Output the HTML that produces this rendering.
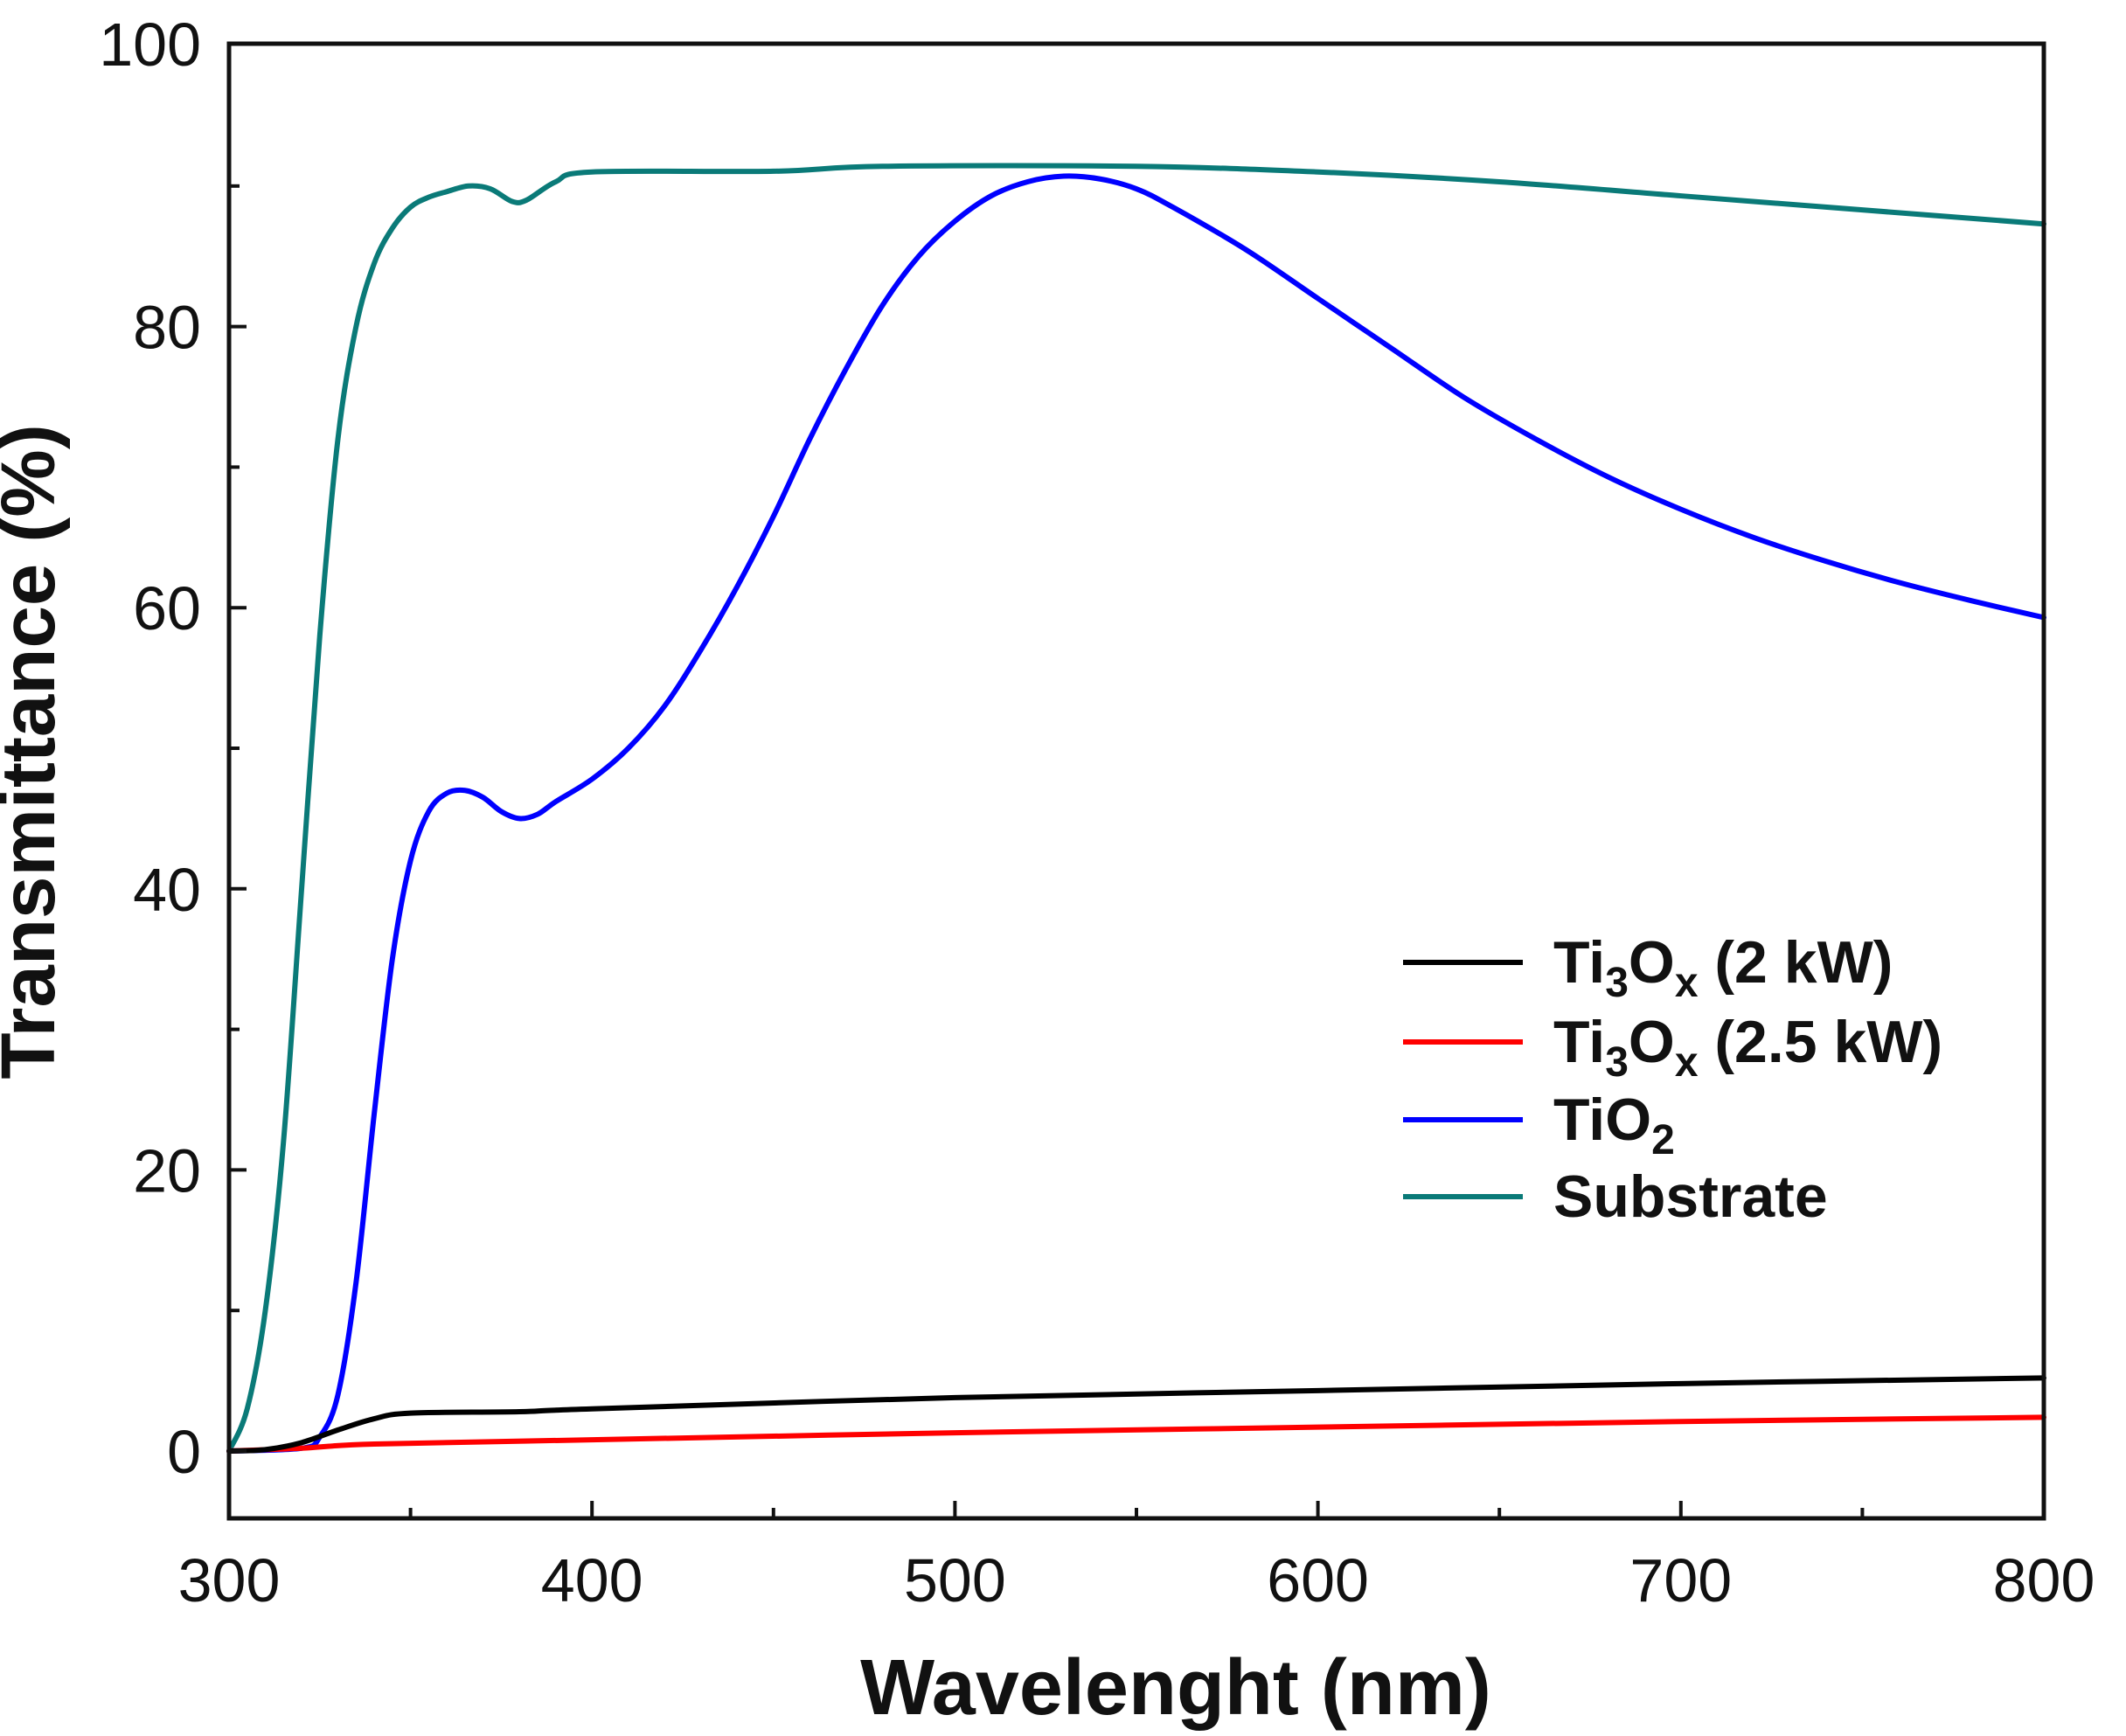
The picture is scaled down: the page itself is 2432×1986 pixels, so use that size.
<!DOCTYPE html>
<html><head><meta charset="utf-8"><style>
html,body{margin:0;padding:0;background:#fff}
svg{display:block}
text{font-family:"Liberation Sans",Arial,sans-serif;fill:#111}
</style></head><body>
<svg id="s" width="2432" height="1986" viewBox="0 0 2432 1986" xmlns="http://www.w3.org/2000/svg">
<rect x="0" y="0" width="2432" height="1986" fill="#fff"/>
<g id="curves" fill="none" stroke-width="6" stroke-linejoin="round" stroke-linecap="round"></g>
<rect x="262" y="50" width="2076" height="1687" fill="none" stroke="#111" stroke-width="5"/>
<g id="ticks" stroke="#111" stroke-width="4"></g>
<g id="labels" font-size="70"></g>
<text x="1345" y="1961" font-size="90" font-weight="bold" text-anchor="middle">Wavelenght (nm)</text>
<text transform="translate(62,860) rotate(-90)" font-size="87" font-weight="bold" text-anchor="middle">Transmittance (%)</text>
<g font-size="68" font-weight="bold">
<line x1="1605" y1="1101" x2="1742" y2="1101" stroke="#000" stroke-width="6"/>
<text x="1777" y="1124">Ti<tspan font-size="48" dy="16">3</tspan><tspan dy="-16">O</tspan><tspan font-size="48" dy="16">x</tspan><tspan dy="-16"> (2 kW)</tspan></text>
<line x1="1605" y1="1192" x2="1742" y2="1192" stroke="#f00" stroke-width="6"/>
<text x="1777" y="1215">Ti<tspan font-size="48" dy="16">3</tspan><tspan dy="-16">O</tspan><tspan font-size="48" dy="16">x</tspan><tspan dy="-16"> (2.5 kW)</tspan></text>
<line x1="1605" y1="1281" x2="1742" y2="1281" stroke="#00f" stroke-width="6"/>
<text x="1777" y="1304">TiO<tspan font-size="48" dy="16">2</tspan></text>
<line x1="1605" y1="1369" x2="1742" y2="1369" stroke="#0a7a78" stroke-width="6"/>
<text x="1777" y="1392">Substrate</text>
</g>
</svg>
<script>
var X=function(w){return 262+(w-300)*4.152},Y=function(t){return 1660-t*16.08};
var data={
"#0a7a78":[[300,0],[305,3],[310,10],[315,22],[320,40],[325,58],[330,72],[335,80],[340,84.5],[345,87],[350,88.5],[355,89.2],[360,89.6],[366,90],[372,89.8],[378,88.9],[382,89],[390,90.3],[400,91],[450,91.05],[480,91.4],[550,91.4],[600,91],[650,90.3],[700,89.3],[750,88.3],[800,87.3]],
"#0000ff":[[300,0],[320,0.2],[325,1],[330,4],[335,12],[340,24],[345,35],[350,42],[355,45.5],[360,46.8],[365,47],[370,46.5],[375,45.5],[380,45],[385,45.3],[390,46.2],[400,47.8],[410,50],[420,53],[430,57],[440,61.5],[450,66.5],[460,72],[470,77],[480,81.5],[490,85],[500,87.5],[510,89.3],[520,90.3],[530,90.7],[540,90.5],[550,89.8],[560,88.5],[580,85.5],[600,82],[620,78.5],[640,75],[660,72],[680,69.3],[700,67],[720,65],[740,63.3],[760,61.8],[780,60.5],[800,59.3]],
"#ff0000":[[300,0],[320,0.2],[340,0.5],[400,0.8],[500,1.3],[600,1.7],[700,2.1],[800,2.4]],
"#000000":[[300,0],[310,0.1],[320,0.6],[330,1.5],[340,2.3],[350,2.7],[380,2.8],[400,3.0],[500,3.8],[600,4.3],[700,4.8],[800,5.2]]};
var ns="http://www.w3.org/2000/svg",g=document.getElementById("curves");
for(var c in data){var p=data[c],d="";
 for(var i=0;i<p.length;i++){
  if(i==0){d+="M"+X(p[0][0])+","+Y(p[0][1]);continue;}
  var p0=p[Math.max(i-2,0)],p1=p[i-1],p2=p[i],p3=p[Math.min(i+1,p.length-1)];
  var c1x=X(p1[0])+(X(p2[0])-X(p0[0]))/6,c1y=Y(p1[1])+(Y(p2[1])-Y(p0[1]))/6;
  var c2x=X(p2[0])-(X(p3[0])-X(p1[0]))/6,c2y=Y(p2[1])-(Y(p3[1])-Y(p1[1]))/6;
  d+="C"+c1x+","+c1y+" "+c2x+","+c2y+" "+X(p2[0])+","+Y(p2[1]);}
 var e=document.createElementNS(ns,"path");e.setAttribute("d",d);e.setAttribute("stroke",c);g.appendChild(e);}
var t=document.getElementById("ticks"),l=document.getElementById("labels");
function ln(a,b,c2,d2){var e=document.createElementNS(ns,"line");e.setAttribute("x1",a);e.setAttribute("y1",b);e.setAttribute("x2",c2);e.setAttribute("y2",d2);t.appendChild(e);}
function tx(x,y,s,a){var e=document.createElementNS(ns,"text");e.setAttribute("x",x);e.setAttribute("y",y);e.setAttribute("text-anchor",a);e.textContent=s;l.appendChild(e);}
for(var v=0;v<=100;v+=10){var y=Y(v);if(v==100)y=50;ln(262,y,262+(v%20==0?20:12),y);if(v%20==0)tx(230,y+25,String(v),"end");}
for(var w=300;w<=800;w+=50){var x=X(w);ln(x,1737,x,1737-(w%100==0?20:12));if(w%100==0)tx(x,1832,String(w),"middle");}
</script>
</body></html>
